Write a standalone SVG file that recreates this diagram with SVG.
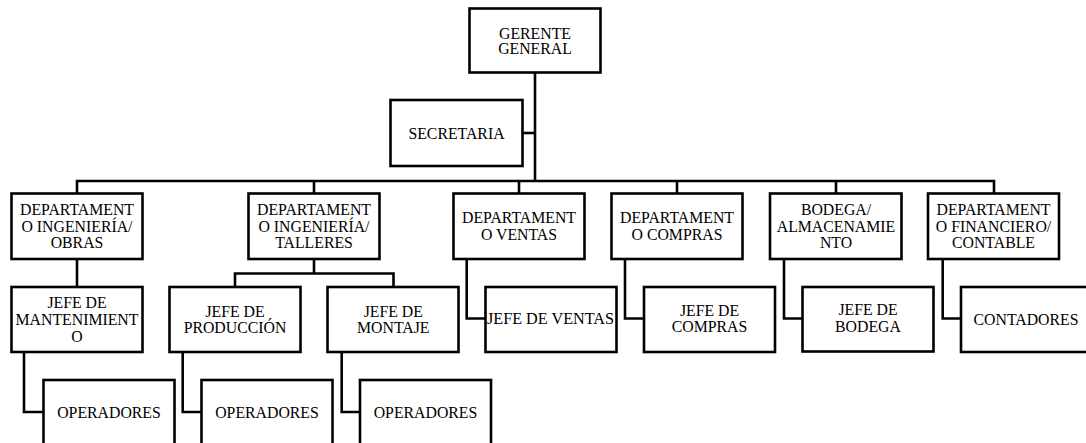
<svg xmlns="http://www.w3.org/2000/svg" width="1086" height="443" viewBox="0 0 1086 443">
<style>
.box{fill:#fff;stroke:#000;stroke-width:2.6}
.ln{fill:none;stroke:#000;stroke-width:2.6;stroke-linejoin:miter}
text{font-family:"Liberation Serif",Tinos,"Times New Roman",Times,"Noto Serif","DejaVu Serif",serif;font-size:15.8px;fill:#000;text-anchor:middle}
</style>
<rect width="1086" height="443" fill="#fff"/>
<g id="connectors">
<path class="ln" d="M535,72 V181"/>
<path class="ln" d="M522,133 H535"/>
<path class="ln" d="M77,193 V181 H994 V193"/>
<path class="ln" d="M314,181 V193 M519,181 V193 M677,181 V193 M836,181 V193"/>
<path class="ln" d="M77,259 V287"/>
<path class="ln" d="M314,259 V273.5 M235,287 V273.5 H393.5 V287"/>
<path class="ln" d="M24,352 V412 H43.5"/>
<path class="ln" d="M182.7,352 V412 H201.5"/>
<path class="ln" d="M341.7,352 V412 H360"/>
<path class="ln" d="M466.7,259 V318.5 H485.5"/>
<path class="ln" d="M625,259 V318.5 H644"/>
<path class="ln" d="M784,259 V318.5 H802.5"/>
<path class="ln" d="M942.7,259 V318.5 H961"/>
</g>
<g id="gerente"><rect class="box" x="469.5" y="8.5" width="131" height="64"/><text x="535" y="38.5">GERENTE</text><text x="535" y="53.5">GENERAL</text></g>
<g id="secretaria"><rect class="box" x="390.5" y="100" width="132" height="66"/><text x="456.5" y="139">SECRETARIA</text></g>
<g id="dep-obras"><rect class="box" x="11.5" y="193.5" width="131" height="65.5"/><text x="77" y="215">DEPARTAMENT</text><text x="77" y="231.7">O INGENIERÍA/</text><text x="77" y="248.3">OBRAS</text></g>
<g id="dep-talleres"><rect class="box" x="248.5" y="193.5" width="131" height="65.5"/><text x="314" y="215">DEPARTAMENT</text><text x="314" y="231.7">O INGENIERÍA/</text><text x="314" y="248.3">TALLERES</text></g>
<g id="dep-ventas"><rect class="box" x="453.5" y="193.5" width="131" height="65.5"/><text x="519" y="223.3">DEPARTAMENT</text><text x="519" y="240">O VENTAS</text></g>
<g id="dep-compras"><rect class="box" x="611.5" y="193.5" width="131" height="65.5"/><text x="677" y="223.3">DEPARTAMENT</text><text x="677" y="240">O COMPRAS</text></g>
<g id="bodega"><rect class="box" x="770" y="193.5" width="131.5" height="65.5"/><text x="836" y="215">BODEGA/</text><text x="836" y="231.7">ALMACENAMIE</text><text x="836" y="248.3">NTO</text></g>
<g id="dep-financiero"><rect class="box" x="928" y="193.5" width="131" height="65.5"/><text x="993.5" y="215">DEPARTAMENT</text><text x="993.5" y="231.7">O FINANCIERO/</text><text x="993.5" y="248.3">CONTABLE</text></g>
<g id="jefe-mant"><rect class="box" x="11.5" y="287" width="131" height="65"/><text x="77" y="308.3">JEFE DE</text><text x="77" y="325">MANTENIMIENT</text><text x="77" y="341.7">O</text></g>
<g id="jefe-prod"><rect class="box" x="169.5" y="287" width="131" height="65"/><text x="235" y="316.7">JEFE DE</text><text x="235" y="333.3">PRODUCCIÓN</text></g>
<g id="jefe-montaje"><rect class="box" x="327.5" y="287" width="131" height="65"/><text x="393.3" y="316.7">JEFE DE</text><text x="393.3" y="333.3">MONTAJE</text></g>
<g id="jefe-ventas"><rect class="box" x="485.5" y="287" width="131" height="65"/><text x="550.5" y="324.3" textLength="127" lengthAdjust="spacingAndGlyphs">JEFE DE VENTAS</text></g>
<g id="jefe-compras"><rect class="box" x="644" y="287" width="131" height="65"/><text x="709.5" y="315.7">JEFE DE</text><text x="709.5" y="331.7">COMPRAS</text></g>
<g id="jefe-bodega"><rect class="box" x="802.5" y="287" width="131" height="64.5"/><text x="868" y="315">JEFE DE</text><text x="868" y="331.7">BODEGA</text></g>
<g id="contadores"><rect class="box" x="961" y="287" width="131" height="65"/><text x="1026" y="325">CONTADORES</text></g>
<g id="operadores-1"><rect class="box" x="43.5" y="380" width="131" height="80"/><text x="109" y="418">OPERADORES</text></g>
<g id="operadores-2"><rect class="box" x="201.5" y="380" width="131" height="80"/><text x="267" y="418">OPERADORES</text></g>
<g id="operadores-3"><rect class="box" x="360" y="380" width="131" height="80"/><text x="425.5" y="418">OPERADORES</text></g>
</svg>
